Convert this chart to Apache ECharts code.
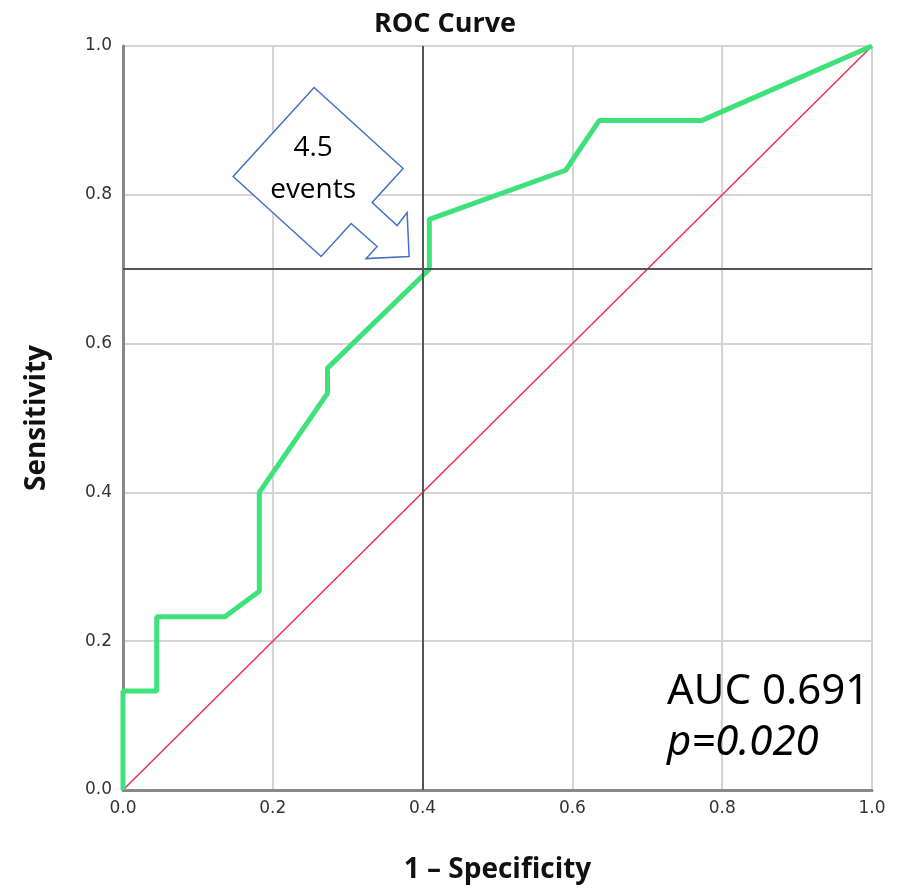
<!DOCTYPE html>
<html>
<head>
<meta charset="utf-8">
<script src="https://cdn.jsdelivr.net/npm/echarts@6/dist/echarts.min.js"></script>
<style>
  html, body { margin: 0; padding: 0; background: #ffffff; }
  #chart { width: 905px; height: 889px; }
</style>
</head>
<body>
<div id="chart"></div>
<script>
// ROC curve points (1 - specificity, sensitivity)
var rocX = [0, 0, 0.045, 0.045, 0.136, 0.182, 0.182, 0.273, 0.273, 0.409, 0.409, 0.591, 0.636, 0.773, 1.0];
var rocY = [0, 0.133, 0.133, 0.233, 0.233, 0.267, 0.4, 0.533, 0.567, 0.7, 0.767, 0.833, 0.9, 0.9, 1.0];
var refX = [0, 1];
var refY = [0, 1];
var cutX = 0.4;
var cutY = 0.7;
var axisTicks = ["0.0", "0.2", "0.4", "0.6", "0.8", "1.0"];

var chart = echarts.init(document.getElementById("chart"));

function pairs(xs, ys) {
  return xs.map(function(x, i) { return [x, ys[i]]; });
}

var tickStyle = { color: "#333333", fontSize: 17, fontFamily: "DejaVu Sans" };

chart.setOption({
  backgroundColor: "#ffffff",
  animation: false,
  title: {
    text: "ROC Curve",
    left: 440,
    top: 6,
    textAlign: "center",
    textStyle: { fontSize: 27, fontWeight: "bold", color: "#111111", fontFamily: "Open Sans" }
  },
  grid: { left: 123, right: 33, top: 46, bottom: 96 },
  xAxis: {
    type: "value",
    min: 0,
    max: 1,
    interval: 0.2,
    name: "1 \u2013 Specificity",
    nameLocation: "middle",
    nameGap: 66,
    nameTextStyle: { fontSize: 28, fontWeight: "bold", color: "#111111", fontFamily: "Open Sans" },
    axisLine: { show: true, lineStyle: { color: "#888888", width: 3 } },
    axisTick: { show: false },
    axisLabel: { margin: 10, formatter: function(v) { return axisTicks[Math.round(v * 5)]; }, ...tickStyle },
    splitLine: { show: true, lineStyle: { color: "#d4d4d4", width: 2 } }
  },
  yAxis: {
    type: "value",
    min: 0,
    max: 1,
    interval: 0.2,
    name: "Sensitivity",
    nameLocation: "middle",
    nameGap: 72,
    nameTextStyle: { fontSize: 28, fontWeight: "bold", color: "#111111", fontFamily: "Open Sans" },
    axisLine: { show: true, lineStyle: { color: "#888888", width: 3 } },
    axisTick: { show: false },
    axisLabel: { margin: 11, formatter: function(v) { return axisTicks[Math.round(v * 5)]; }, ...tickStyle },
    splitLine: { show: true, lineStyle: { color: "#d4d4d4", width: 2 } }
  },
  series: [
    {
      name: "Reference",
      type: "line",
      data: pairs(refX, refY),
      symbol: "none",
      lineStyle: { color: "#e8305a", width: 1.5 },
      z: 2,
      markLine: {
        silent: true,
        symbol: "none",
        label: { show: false },
        lineStyle: { color: "#555555", width: 2, type: "solid" },
        data: [{ xAxis: cutX }, { yAxis: cutY }]
      }
    },
    {
      name: "ROC",
      type: "line",
      data: pairs(rocX, rocY),
      symbol: "none",
      lineStyle: { color: "#3fe27a", width: 5 },
      z: 3
    }
  ]
});

// callout shape pointing at the cut-off, offsets relative to the arrow tip
var tip = chart.convertToPixel({ gridIndex: 0 }, [0.382, 0.717]);
var shape = [
  [-95, -169], [-6, -88], [-37, -54], [-12, -31], [-2, -44], [0, 0],
  [-43, 2], [-32, -10], [-58, -33], [-88, 0], [-176, -80]
];
chart.setOption({
  graphic: [
    {
      type: "polygon",
      shape: { points: shape.map(function(p) { return [tip[0] + p[0], tip[1] + p[1]]; }) },
      style: { fill: "#ffffff", stroke: "#4472c4", lineWidth: 1.5 },
      z: 100
    },
    {
      type: "text",
      x: tip[0] - 96, y: tip[1] - 88,
      style: { text: "4.5\nevents", fill: "#000000", font: "28px 'Open Sans'", align: "center", verticalAlign: "middle", lineHeight: 42 },
      z: 101
    },
    {
      type: "text",
      left: 667, top: 671,
      style: { text: "AUC 0.691", fill: "#000000", font: "42px 'Noto Sans'" },
      z: 101
    },
    {
      type: "text",
      left: 667, top: 722,
      style: { text: "p=0.020", fill: "#000000", font: "italic 42px 'Noto Sans'" },
      z: 101
    }
  ]
});
</script>
</body>
</html>
